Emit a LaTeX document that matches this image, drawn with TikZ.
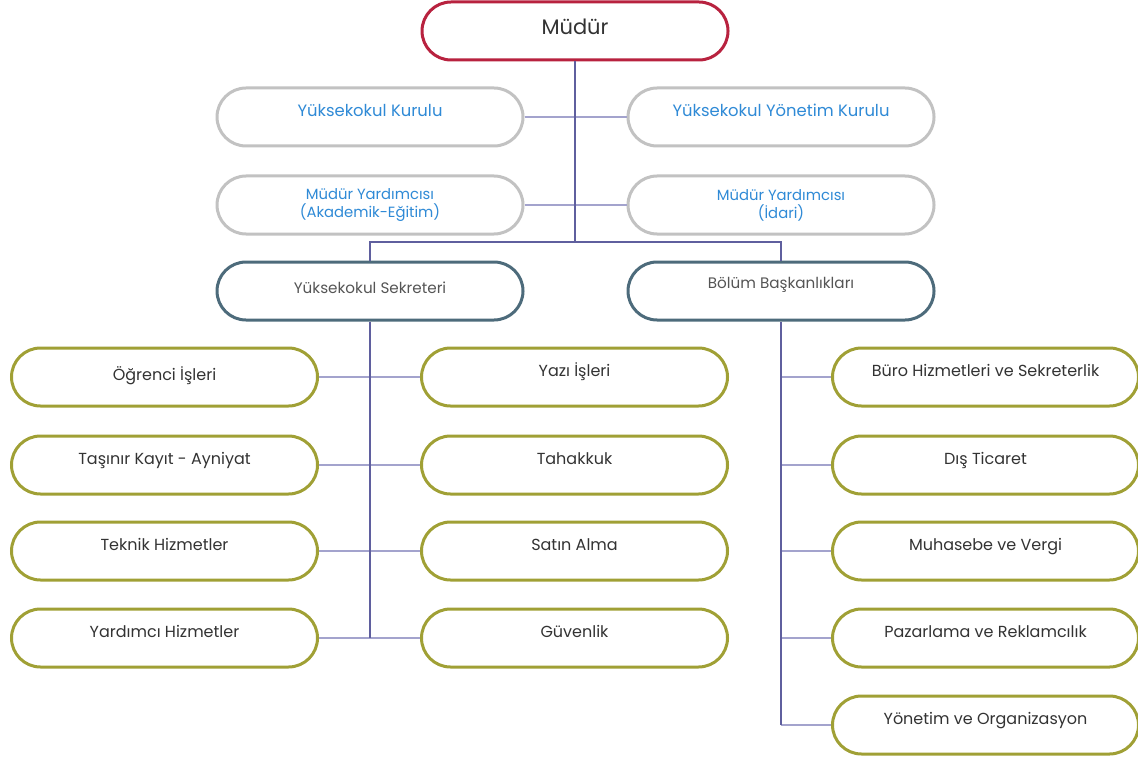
\documentclass[tikz,border=0pt]{standalone}
\usepackage{fontspec}
\setmainfont{Poppins}
\definecolor{crim}{HTML}{B8223F}
\definecolor{grayb}{HTML}{C2C2C2}
\definecolor{bluet}{HTML}{2F8AD6}
\definecolor{slate}{HTML}{4D6B7B}
\definecolor{olive}{HTML}{A0A035}
\definecolor{vline}{HTML}{5F5F9E}
\definecolor{hline}{HTML}{A3A3CD}
\definecolor{darkt}{HTML}{333333}
\definecolor{grayt}{HTML}{555555}
\tikzset{
  box/.style={draw, line width=1.5pt, rounded corners=14.5pt, minimum width=153pt, minimum height=29pt, inner sep=0pt, fill=white},
  up/.style={text height=5.5pt, text depth=6pt},
  topbox/.style={box, draw=crim, text=darkt, font=\fontsize{10.5}{12}\selectfont},
  graybox/.style={box, draw=grayb, text=bluet, font=\fontsize{8.2}{9}\selectfont},
  slatebox/.style={box, draw=slate, text=grayt, font=\fontsize{7.6}{8.5}\selectfont},
  olivebox/.style={box, draw=olive, text=darkt, font=\fontsize{8}{9}\selectfont, up},
  vl/.style={draw=vline, line width=1pt},
  hl/.style={draw=hline, line width=1.2pt},
}
\begin{document}
\begin{tikzpicture}[x=0.5pt,y=-0.5pt]
\useasboundingbox (0,0) rectangle (1138,759);
\coordinate (j) at (575,242);
\coordinate (jl) at (370,242);
\coordinate (jr) at (781,242);

\node[topbox, text height=7.5pt, text depth=4pt] (mudur) at (575,31) {Müdür};
\node[graybox, up] (ykk) at (370,117) {Yüksekokul Kurulu};
\node[graybox, up] (yyk) at (781,117) {Yüksekokul Yönetim Kurulu};
\node[graybox, align=center, font=\fontsize{7.4}{9}\selectfont] (mya) at (370,205) {Müdür Yardımcısı\\(Akademik-Eğitim)};
\node[graybox, align=center, font=\fontsize{7.4}{9}\selectfont] (myi) at (781,205) {Müdür Yardımcısı\\(İdari)};
\node[slatebox, text height=5.5pt, text depth=3pt] (sek) at (370,291) {Yüksekokul Sekreteri};
\node[slatebox, text height=5.5pt, text depth=8.5pt] (bol) at (781,291) {Bölüm Başkanlıkları};

\node[olivebox, text depth=2.5pt] (ogr) at (164.5,377) {Öğrenci İşleri};
\node[olivebox] (tas) at (164.5,465) {Taşınır Kayıt - Ayniyat};
\node[olivebox] (tek) at (164.5,551) {Teknik Hizmetler};
\node[olivebox] (yar) at (164.5,638) {Yardımcı Hizmetler};

\node[olivebox] (yaz) at (574.5,377) {Yazı İşleri};
\node[olivebox] (tah) at (574.5,465) {Tahakkuk};
\node[olivebox] (sat) at (574.5,551) {Satın Alma};
\node[olivebox] (guv) at (574.5,638) {Güvenlik};

\node[olivebox] (bur) at (985.5,377) {Büro Hizmetleri ve Sekreterlik};
\node[olivebox] (dis) at (985.5,465) {Dış Ticaret};
\node[olivebox] (muh) at (985.5,551) {Muhasebe ve Vergi};
\node[olivebox] (paz) at (985.5,638) {Pazarlama ve Reklamcılık};
\node[olivebox] (yon) at (985.5,725) {Yönetim ve Organizasyon};

\coordinate (sb) at (370,638);
\coordinate (bb) at (781,725);

% horizontal connectors
\draw[hl] (ykk.east) -- (yyk.west);
\draw[hl] (mya.east) -- (myi.west);
\draw[hl] (ogr.east) -- (yaz.west);
\draw[hl] (tas.east) -- (tah.west);
\draw[hl] (tek.east) -- (sat.west);
\draw[hl] (yar.east) -- (guv.west);
\foreach \n in {bur,dis,muh,paz,yon}{
  \draw[hl] (\n.west) -- (\n.west -| bb);
}
% vertical connectors
\draw[vl] (mudur.south) -- (j);
\draw[vl] (sek.north) |- (jl) -- (jr) -- (bol.north);
\draw[vl] (sek.south) -- (sb);
\draw[vl] (bol.south) -- (bb);
\end{tikzpicture}
\end{document}
